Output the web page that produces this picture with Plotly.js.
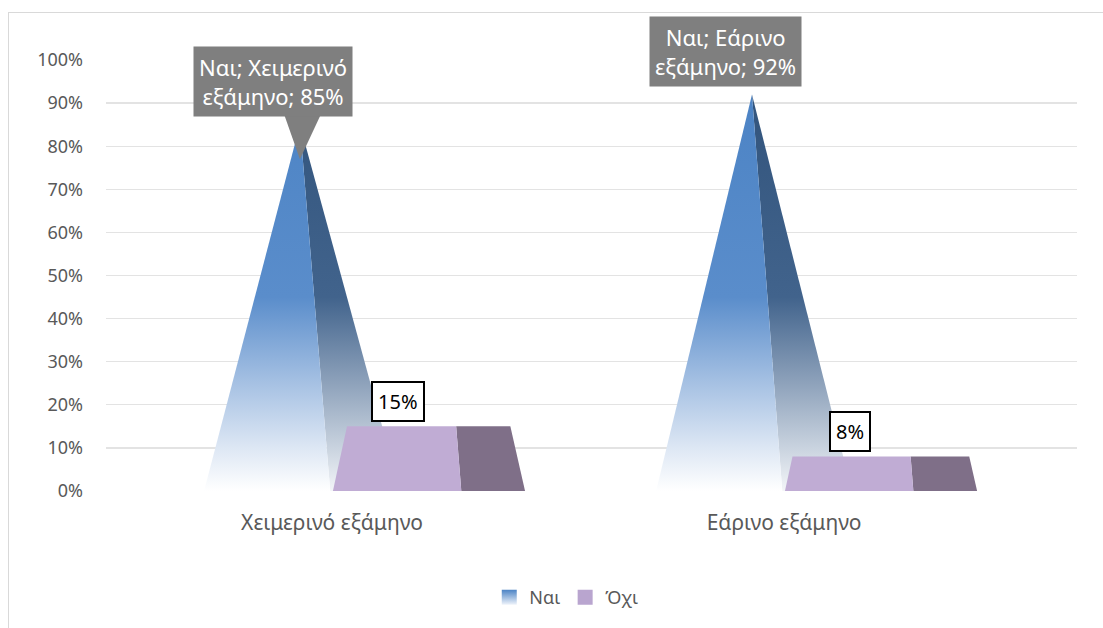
<!DOCTYPE html>
<html>
<head>
<meta charset="utf-8">
<script src="https://cdn.plot.ly/plotly-3.0.1.min.js"></script>
<style>
  html, body { margin: 0; padding: 0; background: #ffffff; }
  #wrap { position: relative; width: 1103px; height: 628px; overflow: hidden; }
  #chart { position: absolute; left: 0; top: 0; width: 1103px; height: 628px; }
  #frame { position: absolute; left: 8px; top: 12px; width: 1200px; height: 700px;
           border-left: 1px solid #d9d9d9; border-top: 1px solid #d9d9d9; pointer-events: none; }
</style>
</head>
<body>
<div id="wrap">
  <div id="chart"></div>
  <div id="frame"></div>
</div>
<script>
// ---- data ----
const categories = ['Χειμερινό εξάμηνο', 'Εάρινο εξάμηνο'];
const seriesNames = ['Ναι', 'Όχι'];
const naiValues = [85, 92];
const oxiValues = [15, 8];
const yTickValues = [0, 10, 20, 30, 40, 50, 60, 70, 80, 90, 100];

// ---- geometry of the 3D pyramids (offsets in category units) ----
const NAI = { left: -0.283, right: -0.004, side: 0.150, apex: -0.071 };
const OXI = { left: 0.002, right: 0.286, side: 0.427, apex: 0.210, apexH: 100 };

const FONT = 'Noto Sans, DejaVu Sans, sans-serif';
const GREY = '#595959';

const naiFrontGrad = { type: 'vertical', start: 0, stop: 100,
  colorscale: [[0, '#ffffff'], [0.1, '#dde7f4'], [0.25, '#a6c1e3'], [0.45, '#5a8dcb'], [1, '#4a82c4']] };
const naiSideGrad = { type: 'vertical', start: 0, stop: 100,
  colorscale: [[0, '#f3f5f8'], [0.1, '#c9d3df'], [0.25, '#8ea2bb'], [0.45, '#41638c'], [1, '#30527a']] };

const traces = [];
const lerp = (a, b, t) => a + (b - a) * t;

// Ναι: pyramid to point at value
categories.forEach((c, i) => {
  const v = naiValues[i];
  traces.push({
    x: [i + NAI.right, i + NAI.side, i + NAI.apex, i + NAI.right],
    y: [0, 0, v, 0],
    mode: 'none', fill: 'toself', fillgradient: naiSideGrad,
    showlegend: false, hoverinfo: 'skip'
  });
  traces.push({
    x: [i + NAI.left, i + NAI.right, i + NAI.apex, i + NAI.left],
    y: [0, 0, v, 0],
    mode: 'none', fill: 'toself', fillgradient: naiFrontGrad,
    showlegend: false, hoverinfo: 'skip'
  });
});

// Όχι: pyramid truncated at value (apex at max)
categories.forEach((c, i) => {
  const v = oxiValues[i];
  const t = v / OXI.apexH;
  traces.push({
    x: [i + OXI.right, i + OXI.side, i + lerp(OXI.side, OXI.apex, t), i + lerp(OXI.right, OXI.apex, t), i + OXI.right],
    y: [0, 0, v, v, 0],
    mode: 'none', fill: 'toself', fillcolor: '#7f6f88',
    showlegend: false, hoverinfo: 'skip'
  });
  traces.push({
    x: [i + OXI.left, i + OXI.right, i + lerp(OXI.right, OXI.apex, t), i + lerp(OXI.left, OXI.apex, t), i + OXI.left],
    y: [0, 0, v, v, 0],
    mode: 'none', fill: 'toself', fillcolor: '#c0acd4',
    showlegend: false, hoverinfo: 'skip'
  });
});

// legend entries (square swatches)
traces.push({
  x: [null], y: [null], mode: 'markers', name: seriesNames[0],
  marker: { symbol: 'square', size: 15, color: '#4a82c4', gradient: { type: 'vertical', color: '#eef3fa' } },
  hoverinfo: 'skip'
});
traces.push({
  x: [null], y: [null], mode: 'markers', name: seriesNames[1],
  marker: { symbol: 'square', size: 15, color: '#b9a5cf' },
  hoverinfo: 'skip'
});

// data labels
const annotations = [];
const shapes = [];
categories.forEach((c, i) => {
  const v = naiValues[i];
  annotations.push({
    x: i - 0.13, y: v, yshift: 43, xref: 'x', yref: 'y',
    text: seriesNames[0] + '; ' + c.split(' ')[0] + '<br>' + c.split(' ')[1] + '; ' + v + '%',
    showarrow: false, bgcolor: '#7f7f7f', borderpad: 5,
    font: { family: FONT, size: 22, color: '#ffffff' }, align: 'center'
  });
  const o = oxiValues[i];
  annotations.push({
    x: i + 0.145, y: o + 5.8, xref: 'x', yref: 'y',
    text: o + '%', showarrow: false, bgcolor: '#ffffff',
    bordercolor: '#000000', borderwidth: 2, borderpad: 5,
    font: { family: FONT, size: 20, color: '#000000' }
  });
});
// callout pointer of the first label
{
  const v = naiValues[0];
  shapes.push({
    type: 'path', xref: 'x', yref: 'y', layer: 'above',
    path: `M -0.108 ${v + 3} L -0.022 ${v + 3} L ${NAI.apex} ${v - 8} Z`,
    fillcolor: '#7f7f7f', line: { width: 0 }
  });
}

const layout = {
  width: 1103, height: 628,
  margin: { l: 106, r: 26, t: 60, b: 135 },
  paper_bgcolor: '#ffffff', plot_bgcolor: '#ffffff',
  font: { family: FONT, color: GREY, size: 18 },
  xaxis: {
    range: [-0.5, 1.648], tickvals: [0, 1], ticktext: categories,
    showgrid: false, zeroline: false, showline: false, ticks: '',
    ticklabelstandoff: 17, tickfont: { family: FONT, size: 21, color: GREY }
  },
  yaxis: {
    range: [0, 100], tickvals: yTickValues, ticktext: yTickValues.map(v => v + '%'),
    showgrid: true, gridcolor: '#e3e3e3', gridwidth: 1.3, zeroline: false, showline: false,
    ticks: '', ticklabelstandoff: 22, tickfont: { family: FONT, size: 18, color: GREY }
  },
  legend: {
    orientation: 'h', x: 0.474, xanchor: 'center', y: -0.247, yanchor: 'middle',
    font: { family: FONT, size: 18, color: GREY }, itemwidth: 30, tracegroupgap: 0
  },
  annotations: annotations,
  shapes: shapes,
  showlegend: true
};

Plotly.newPlot('chart', traces, layout, { displayModeBar: false, staticPlot: true });
</script>
</body>
</html>
